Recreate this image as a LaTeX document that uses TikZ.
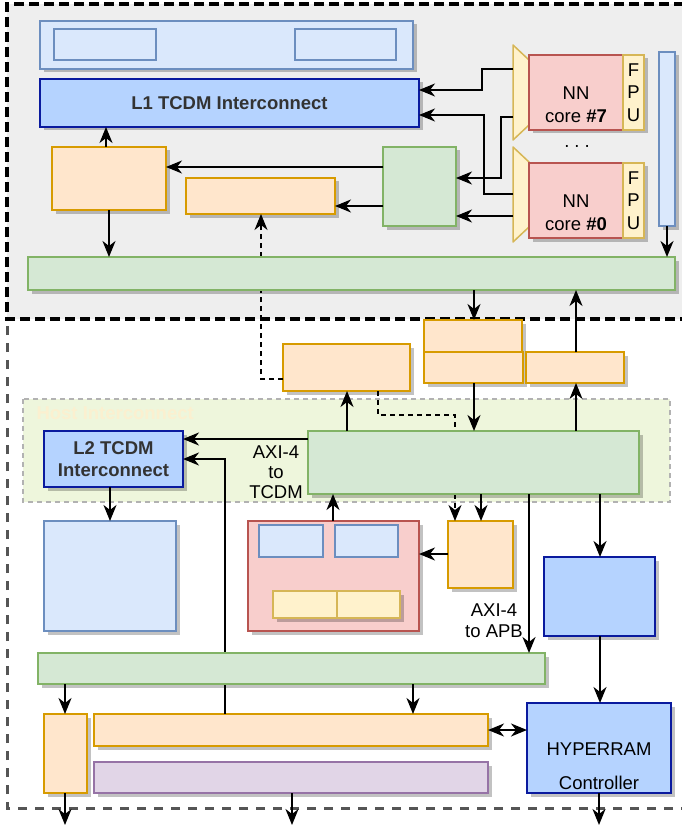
\documentclass[tikz,border=0pt]{standalone}
\usepackage{fontspec}
\setmainfont{Liberation Sans}
\usetikzlibrary{arrows.meta,shadows,calc}
\definecolor{lbF}{HTML}{DAE8FC}\definecolor{lbS}{HTML}{6C8EBF}
\definecolor{icF}{HTML}{B5D3FF}\definecolor{icS}{HTML}{0A1A9E}
\definecolor{orF}{HTML}{FFE6CC}\definecolor{orS}{HTML}{D79B00}
\definecolor{grF}{HTML}{D5E8D4}\definecolor{grS}{HTML}{82B366}
\definecolor{rdF}{HTML}{F8CECC}\definecolor{rdS}{HTML}{B85450}
\definecolor{yeF}{HTML}{FFF2CC}\definecolor{yeS}{HTML}{D6B656}
\definecolor{puF}{HTML}{E1D5E7}\definecolor{puS}{HTML}{9673A6}
\definecolor{topbg}{HTML}{EEEEEE}
\definecolor{hostF}{HTML}{EEF6DC}
\definecolor{hostT}{HTML}{FBF0D0}
\definecolor{txt}{HTML}{333333}
\definecolor{dgray}{HTML}{555555}
\newcommand\Bx[6]{\node[box,#1,minimum width=#4pt,minimum height=#5pt] (#2) at (#3) {#6};}
\begin{document}
\begin{tikzpicture}[x=1pt,y=-1pt,
  every node/.style={font=\fontsize{18.5}{22.5}\selectfont, align=center, text=black},
  box/.style={draw, line width=1.5pt, inner sep=0pt, outer sep=0pt, anchor=north west},
  shd/.style={drop shadow={shadow xshift=3.5pt,shadow yshift=-3.5pt,fill=black,opacity=0.24}},
  lb/.style={fill=lbF,draw=lbS},
  ic/.style={fill=icF,draw=icS},
  or/.style={fill=orF,draw=orS},
  gr/.style={fill=grF,draw=grS},
  rd/.style={fill=rdF,draw=rdS},
  ye/.style={fill=yeF,draw=yeS},
  pu/.style={fill=puF,draw=puS},
  bold/.style={font=\fontsize{18.5}{22.5}\selectfont\bfseries, text=txt},
  tip/.tip={Stealth[length=16pt,width=13pt,inset=5pt]},
  arr/.style={line width=1.9pt,-tip},
  darr/.style={line width=1.9pt,tip-tip},
  dsh/.style={line width=1.6pt,dash pattern=on 5pt off 4pt,-tip},
  ghost/.style={draw=none,inner sep=0pt,outer sep=0pt,anchor=north west}
]
\useasboundingbox (0,0) rectangle (681,829);
% outer regions
\fill[topbg] (7,4) rectangle (690,319);
\draw[draw=dgray,dash pattern=on 9pt off 8pt,line width=3pt] (690,808) -- (7,808) -- (7,319);
\draw[draw=black,dash pattern=on 10pt off 5pt,line width=3.4pt] (690,319) -- (7,319) -- (7,4) -- (690,4);
\draw[fill=hostF,draw=black!30,line width=1.2pt,dash pattern=on 5pt off 4pt] (23,399) rectangle (670,502);
\node[anchor=west,text=hostT,font=\fontsize{18.5}{22.5}\selectfont\bfseries] (hostlbl) at (33,413) {Host Interconnect};

% ghost nodes for trapezoids and exits
\node[ghost,minimum width=16pt,minimum height=95pt] (t7) at (513,45) {};
\node[ghost,minimum width=16pt,minimum height=95pt] (t0) at (513,147) {};
\coordinate (o1) at (65,825);
\coordinate (o2) at (292,825);
\coordinate (o3) at (599,825);

% boxes needed for behind-connectors
\Bx{or,shd}{ob2}{186,178}{149}{36}{}
\Bx{or,shd}{ob5}{283,344}{127}{47}{}
\Bx{or,shd}{apb}{448,521}{65}{67}{}
\Bx{or,shd}{ob10}{94,714}{394}{32}{}
\Bx{ic,shd,bold}{l2}{44,431}{139}{56}{L2 TCDM\\Interconnect}

% connectors running behind boxes
\draw[dsh] (ob5.west |- 0,379) -- (261,379) -- (ob2.south -| 261,0);
\draw[dsh] (ob5.south -| 378,0) |- (455,415) -- (apb.north -| 455,0);
\draw[arr] (ob10.north -| 225,0) |- (l2.east |- 0,459);

% top section
\Bx{lb,shd}{mem}{40,21}{373}{48}{}
\Bx{lb}{mema}{54,29}{102}{31}{}
\Bx{lb}{memb}{295,29}{101}{31}{}
\Bx{ic,shd,bold}{l1}{40,79}{379}{48}{L1 TCDM Interconnect}
\Bx{or,shd}{ob1}{52,147}{114}{63}{}
\Bx{gr,shd}{gb1}{383,147}{73}{79}{}
\draw[ye,line width=1.5pt,line join=round] (513,45) -- (529,60) -- (529,125) -- (513,140) -- cycle;
\draw[ye,line width=1.5pt,line join=round] (513,147) -- (529,162) -- (529,227) -- (513,242) -- cycle;
\Bx{rd,shd}{c7}{529,55}{94}{75}{}
\Bx{ye,shd}{f7}{623,55}{21}{75}{F\\P\\U}
\Bx{rd,shd}{c0}{529,163}{94}{75}{}
\Bx{ye,shd}{f0}{623,163}{21}{75}{F\\P\\U}
\node (c7t) at ([yshift=-12pt]c7.center) {NN\\core \textbf{\#7}};
\node (c0t) at ([yshift=-12pt]c0.center) {NN\\core \textbf{\#0}};
\node (dots) at (577,148) {·\hspace{4pt}·\hspace{4pt}·};
\Bx{lb,shd}{vb}{659,52}{16}{174}{}
\Bx{gr,shd}{gbar}{28,257}{647}{33}{}

% middle section
\Bx{or,shd}{ob6}{424,320}{98}{32}{}
\Bx{or,shd}{ob7}{424,352}{99}{31}{}
\Bx{or,shd}{ob8}{526,352}{98}{31}{}
\Bx{gr,shd}{xbar}{308,431}{331}{63}{}
\node[font=\fontsize{18.5}{20}\selectfont] (axit) at (276,472) {AXI-4\\to\\TCDM};

% lower section
\Bx{lb,shd}{l2mem}{44,521}{132}{110}{}
\Bx{rd,shd}{soc}{248,521}{171}{110}{}
\Bx{lb}{soca}{259,525}{64}{32}{}
\Bx{lb}{socb}{335,525}{63}{32}{}
\Bx{ye,shd}{socc}{273,591}{64}{27}{}
\Bx{ye,shd}{socd}{337,591}{63}{27}{}
\node[font=\fontsize{18.5}{21}\selectfont] (apbt) at (494,621) {AXI-4\\to APB};
\Bx{ic,shd}{hb}{544,557}{111}{79}{}
\Bx{gr,shd}{gbar2}{38,653}{507}{31}{}
\Bx{or,shd}{ob9}{44,714}{43}{79}{}
\Bx{pu,shd}{pub}{94,762}{394}{31}{}
\Bx{ic,shd}{hr}{527,703}{144}{90}{}
\node (hrt1) at (599,749) {HYPERRAM};
\node (hrt2) at (599,783) {Controller};

% connectors top
\draw[arr] ([yshift=-24pt]t7.north west) -- (482,69) |- (l1.east |- 0,90);
\draw[arr] ([yshift=-72pt]t7.north west) -- (501,117) |- (gb1.east |- 0,178);
\draw[arr] ([yshift=-47pt]t0.north west) -- (484,194) |- (l1.east |- 0,115);
\draw[arr] ([yshift=-69pt]t0.north west) -- (gb1.east |- 0,216);
\draw[arr] (gb1.west |- 0,167) -- (ob1.east |- 0,167);
\draw[arr] (gb1.west |- 0,206) -- (ob2.east |- 0,206);
\draw[arr] (ob1.north -| 106,0) -- (l1.south -| 106,0);
\draw[arr] (ob1.south -| 109,0) -- (gbar.north -| 109,0);
\draw[arr] (vb.south -| 667,0) -- (gbar.north -| 667,0);
\draw[arr] (gbar.south -| 474,0) -- (ob6.north -| 474,0);
\draw[arr] (ob8.north -| 576,0) -- (gbar.south -| 576,0);

% connectors middle
\draw[arr] (xbar.north -| 347,0) -- (ob5.south -| 347,0);
\draw[arr] (ob7.south -| 474,0) -- (xbar.north -| 474,0);
\draw[arr] (xbar.north -| 576,0) -- (ob8.south -| 576,0);
\draw[arr] (xbar.south -| 481,0) -- (apb.north -| 481,0);
\draw[arr] (xbar.south -| 529,0) -- (gbar2.north -| 529,0);
\draw[arr] (xbar.south -| 600,0) -- (hb.north -| 600,0);
\draw[arr] (xbar.west |- 0,439) -- (l2.east |- 0,439);
\draw[arr] (soc.north -| 333,0) -- (xbar.south -| 333,0);

% connectors lower
\draw[arr] (l2.south -| 110,0) -- (l2mem.north -| 110,0);
\draw[arr] (apb.west |- 0,554) -- (soc.east |- 0,554);
\draw[arr] (hb.south -| 600,0) -- (hr.north -| 600,0);
\draw[arr] (gbar2.south -| 65,0) -- (ob9.north -| 65,0);
\draw[arr] (gbar2.south -| 413,0) -- (ob10.north -| 413,0);
\draw[darr] (ob10.east |- 0,730) -- (hr.west |- 0,730);
\draw[arr] (ob9.south -| o1) -- (o1);
\draw[arr] (pub.south -| o2) -- (o2);
\draw[arr] (hr.south -| o3) -- (o3);
\end{tikzpicture}
\end{document}
